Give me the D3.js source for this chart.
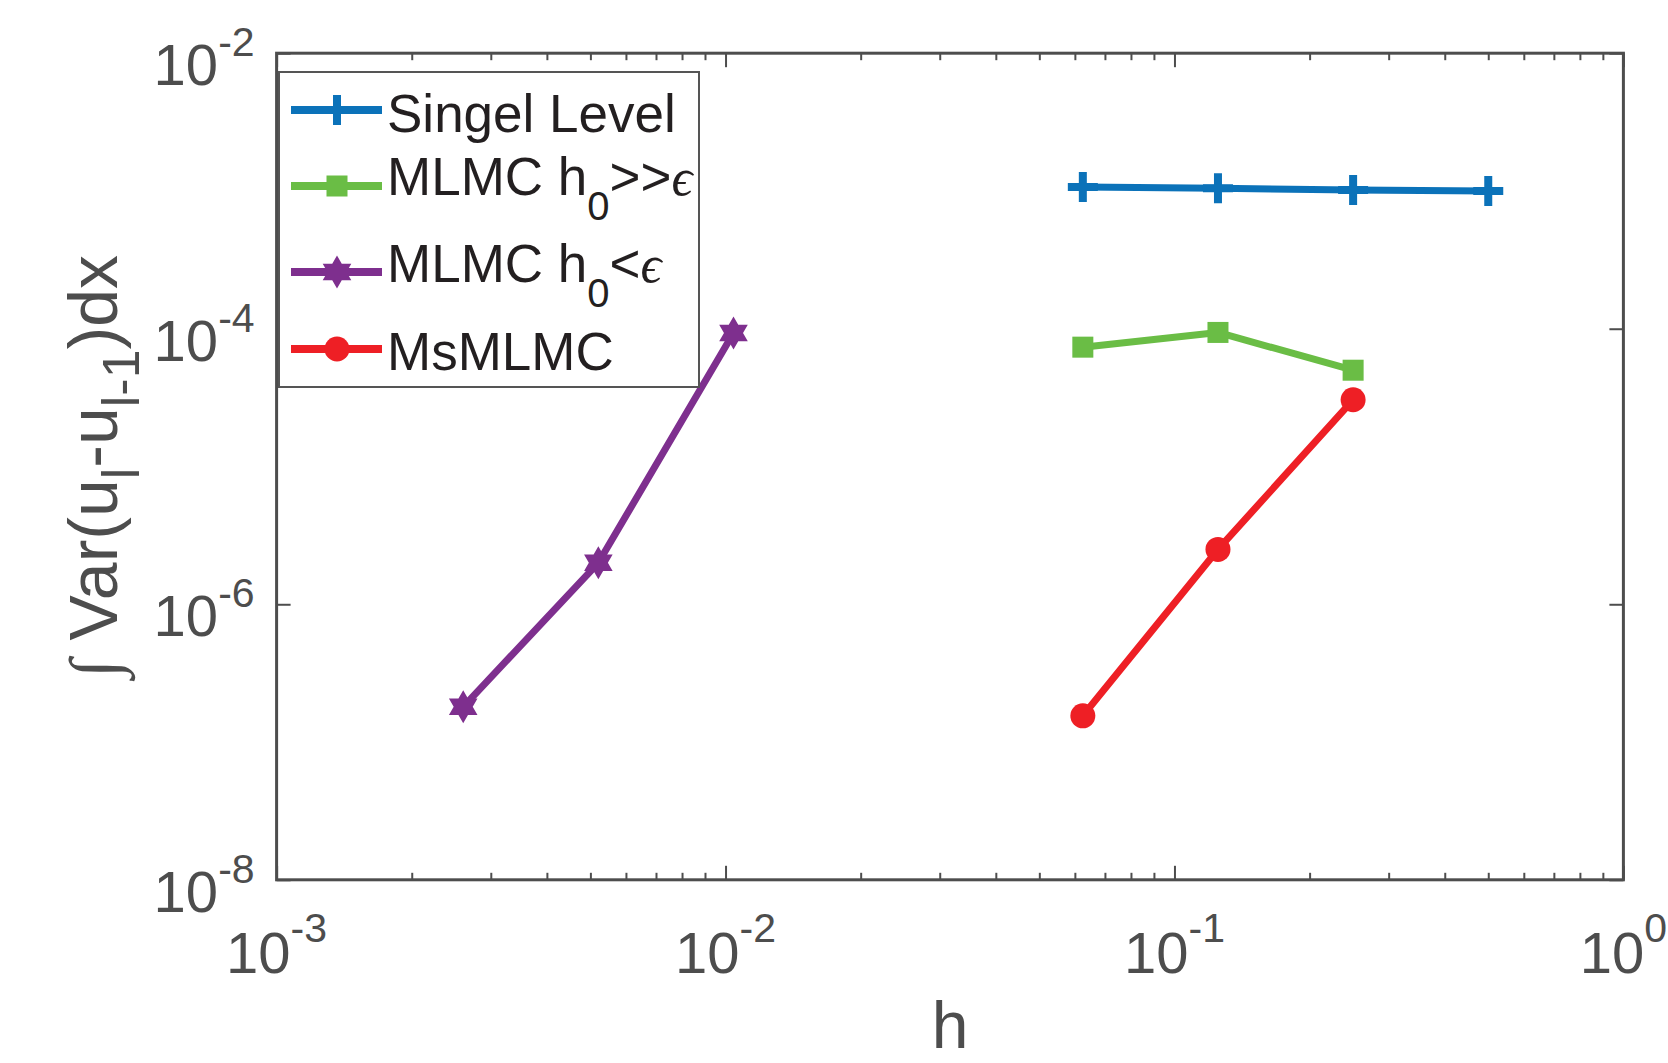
<!DOCTYPE html>
<html>
<head>
<meta charset="utf-8">
<script src="https://cdn.jsdelivr.net/npm/d3@7"></script>
<style>
  body { margin: 0; background: #fff; }
  text { font-family: "Liberation Sans", Arial, Helvetica, sans-serif; }
</style>
</head>
<body>
<script>
// data (h on x, integrated variance on y)
var hSingle = [1/16, 1/8, 1/4, 1/2];
var varSingle = [1.07e-3, 1.045e-3, 1.015e-3, 1.0e-3];

var hBig = [1/16, 1/8, 1/4];
var varBig = [7.35e-5, 9.4e-5, 5.0e-5];

var hSmall = [1/384, 1/192, 1/96];
var varSmall = [1.8e-7, 2.0e-6, 9.3e-5];

var hMs = [1/16, 1/8, 1/4];
var varMs = [1.55e-7, 2.5e-6, 3.05e-5];

var xMajor = [1e-3, 1e-2, 1e-1, 1];
var xMajorExp = ["-3", "-2", "-1", "0"];
var yMajor = [1e-8, 1e-6, 1e-4, 1e-2];
var yMajorExp = ["-8", "-6", "-4", "-2"];

var seriesNames = ["Singel Level", "MLMC h|0|>>", "MLMC h|0|<", "MsMLMC"];
var seriesColors = ["#0b72b9", "#6abd45", "#7e2f8e", "#ee1f25"];

// plot box (note: "top" is reserved on window, so use a margin object)
var margin = {left: 276.6, right: 1623.4, top: 53.2, bottom: 879.8};
var width = 1668, height = 1063;
var axisColor = "#4d4d4d";

var svg = d3.select("body").append("svg")
    .attr("width", width)
    .attr("height", height);

var x = d3.scaleLog().domain([1e-3, 1]).range([margin.left, margin.right]);
var y = d3.scaleLog().domain([1e-8, 1e-2]).range([margin.bottom, margin.top]);

// minor x ticks 2..9 in each decade
var xMinor = [];
xMajor.slice(0, 3).forEach(function(d) {
    for (var k = 2; k <= 9; k++) xMinor.push(d * k);
});

// axes: ticks pointing inward on all four sides
function drawAxis(axis, tx, ty) {
    var g = svg.append("g")
        .attr("transform", "translate(" + tx + "," + ty + ")")
        .call(axis);
    g.selectAll("text").remove();
    g.select(".domain").remove();
    g.selectAll("line").attr("stroke", axisColor).attr("stroke-width", 2);
    return g;
}
drawAxis(d3.axisBottom(x).tickValues(xMajor).tickSize(-14).tickSizeOuter(0), 0, margin.bottom);
drawAxis(d3.axisBottom(x).tickValues(xMinor).tickSize(-7).tickSizeOuter(0), 0, margin.bottom);
drawAxis(d3.axisTop(x).tickValues(xMajor).tickSize(-14).tickSizeOuter(0), 0, margin.top);
drawAxis(d3.axisTop(x).tickValues(xMinor).tickSize(-7).tickSizeOuter(0), 0, margin.top);
drawAxis(d3.axisLeft(y).tickValues(yMajor).tickSize(-14).tickSizeOuter(0), margin.left, 0);
drawAxis(d3.axisRight(y).tickValues(yMajor).tickSize(-14).tickSizeOuter(0), margin.right, 0);

svg.append("rect")
    .attr("x", margin.left).attr("y", margin.top)
    .attr("width", margin.right - margin.left).attr("height", margin.bottom - margin.top)
    .attr("fill", "none")
    .attr("stroke", axisColor)
    .attr("stroke-width", 3);

// tick labels with superscripts
xMajor.forEach(function(d, i) {
    var t = svg.append("text")
        .attr("x", x(d)).attr("y", margin.bottom + 93)
        .attr("text-anchor", "middle")
        .attr("font-size", 58)
        .attr("fill", axisColor);
    t.append("tspan").text("10");
    t.append("tspan").attr("dy", -31).attr("font-size", 41).text(xMajorExp[i]);
});

yMajor.forEach(function(d, i) {
    var t = svg.append("text")
        .attr("x", margin.left - 22).attr("y", y(d) + 32)
        .attr("text-anchor", "end")
        .attr("font-size", 58)
        .attr("fill", axisColor);
    t.append("tspan").text("10");
    t.append("tspan").attr("dy", -29).attr("font-size", 41).text(yMajorExp[i]);
});

// axis labels
svg.append("text")
    .attr("x", (margin.left + margin.right) / 2).attr("y", 1048)
    .attr("text-anchor", "middle")
    .attr("font-size", 66)
    .attr("fill", axisColor)
    .text("h");

var yl = svg.append("text")
    .attr("transform", "translate(117," + ((margin.top + margin.bottom) / 2) + ") rotate(-90)")
    .attr("text-anchor", "middle")
    .attr("font-size", 68)
    .attr("fill", axisColor);
yl.append("tspan").style("font-family", "'Liberation Serif', serif").style("font-style", "italic").text("\u222B");
yl.append("tspan").text(" Var(u");
yl.append("tspan").attr("dy", 22).attr("font-size", 52).text("l");
yl.append("tspan").attr("dy", -22).text("-u");
yl.append("tspan").attr("dy", 22).attr("font-size", 52).text("l-1");
yl.append("tspan").attr("dy", -22).text(")dx");

// markers
function hexagram(R) {
    var r = R / Math.sqrt(3), pts = [];
    for (var k = 0; k < 12; k++) {
        var a = -Math.PI / 2 + k * Math.PI / 6;
        var rr = k % 2 === 0 ? R : r;
        pts.push([rr * Math.cos(a), rr * Math.sin(a)]);
    }
    return "M" + pts.join("L") + "Z";
}

function drawMarker(g, kind, cx, cy, color) {
    if (kind === 0) {
        g.append("path")
            .attr("d", "M" + (cx - 15) + "," + cy + "H" + (cx + 15) + "M" + cx + "," + (cy - 15) + "V" + (cy + 15))
            .attr("stroke", color).attr("stroke-width", 8).attr("fill", "none");
    } else if (kind === 1) {
        g.append("rect")
            .attr("x", cx - 10.5).attr("y", cy - 10.5)
            .attr("width", 21).attr("height", 21)
            .attr("fill", color);
    } else if (kind === 2) {
        g.append("path")
            .attr("transform", "translate(" + cx + "," + cy + ")")
            .attr("d", hexagram(16.5))
            .attr("fill", color);
    } else {
        g.append("circle")
            .attr("cx", cx).attr("cy", cy).attr("r", 12.5)
            .attr("fill", color);
    }
}

var allH = [hSingle, hBig, hSmall, hMs];
var allV = [varSingle, varBig, varSmall, varMs];

var line = d3.line()
    .x(function(d) { return x(d[0]); })
    .y(function(d) { return y(d[1]); });

allH.forEach(function(hs, s) {
    var pts = hs.map(function(h, i) { return [h, allV[s][i]]; });
    var g = svg.append("g");
    g.append("path")
        .datum(pts)
        .attr("d", line)
        .attr("fill", "none")
        .attr("stroke", seriesColors[s])
        .attr("stroke-width", 7)
        .attr("stroke-linejoin", "round");
    pts.forEach(function(p) {
        drawMarker(g, s, x(p[0]), y(p[1]), seriesColors[s]);
    });
});

// legend
var lg = svg.append("g");
lg.append("rect")
    .attr("x", 279).attr("y", 72)
    .attr("width", 420).attr("height", 315)
    .attr("fill", "#fff")
    .attr("stroke", "#555")
    .attr("stroke-width", 2);

var rowLine = [110, 186, 272, 349];
var rowBase = [132, 195, 282, 370];
seriesNames.forEach(function(name, s) {
    lg.append("line")
        .attr("x1", 291).attr("x2", 382)
        .attr("y1", rowLine[s]).attr("y2", rowLine[s])
        .attr("stroke", seriesColors[s])
        .attr("stroke-width", 8);
    drawMarker(lg, s, 337, rowLine[s], seriesColors[s]);

    var parts = name.split("|");
    var t = lg.append("text")
        .attr("x", 387).attr("y", rowBase[s])
        .attr("font-size", 53)
        .attr("fill", "#231f20");
    t.append("tspan").text(parts[0]);
    if (parts.length > 1) {
        t.append("tspan").attr("dy", 25).attr("font-size", 40).text(parts[1]);
        t.append("tspan").attr("dy", -25).text(parts[2]);
        t.append("tspan")
            .style("font-family", "'Liberation Serif', serif")
            .style("font-style", "italic")
            .attr("font-size", 52)
            .text("\u03F5");
    }
});
</script>
</body>
</html>
